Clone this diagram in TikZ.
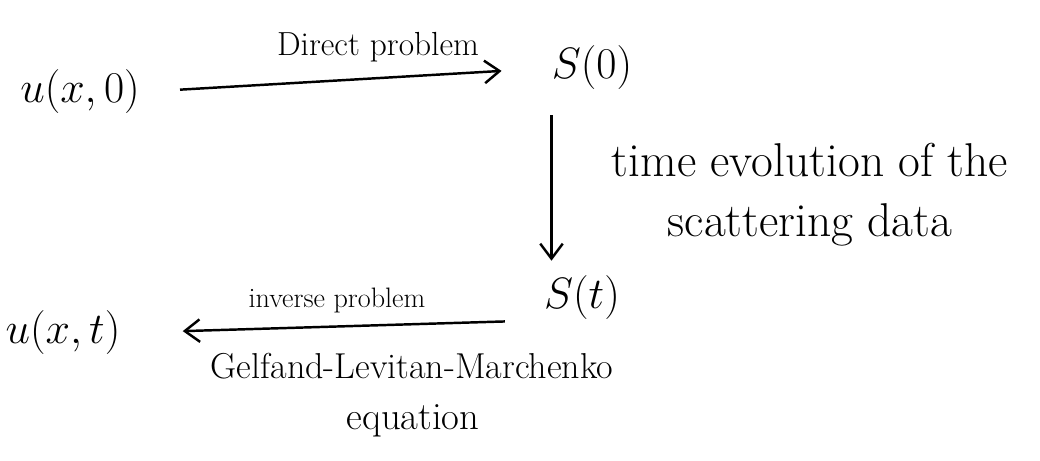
\RequirePackage{fix-cm}
\documentclass[tikz,border=0pt]{standalone}
\usepackage{amsmath}
\usetikzlibrary{arrows.meta}

\begin{document}
\begin{tikzpicture}[scale=0.2]
	    \tikzstyle{every node}+=[inner sep=0pt]
	    \tikzstyle{hand}=[line width=1.4pt, -{Straight Barb[length=3mm,width=4.5mm]}]
	    \tikzstyle{state}=[font=\fontsize{25}{28}\selectfont]
	    \tikzstyle{label}=[font=\fontsize{20.5}{24}\selectfont, align=center]
	    \useasboundingbox (0,0) rectangle (104,-46.1);
	    % states
	    \node [state] (u0) at (8,-9.2) {$u(x,0)$};
	    \node [state] (S0) at (59.2,-6.8) {$S(0)$};
	    \node [state] (St) at (58.2,-29.8) {$S(t)$};
	    \node [state] (ut) at (6.3,-33.3) {$u(x,t)$};
	    % labels
	    \node [label, font=\fontsize{19}{23}\selectfont] (direct) at (37.8,-4.7) {Direct problem};
	    \node [label, font=\fontsize{27}{34}\selectfont] (evol) at (81,-19.5) {time evolution of the\\scattering data};
	    \node [label, font=\fontsize{16}{20}\selectfont] (inverse) at (33.7,-30) {inverse problem};
	    \node [label] (glm) at (41.2,-36.6) {Gelfand-Levitan-Marchenko};
	    \node [label, font=\fontsize{22}{26}\selectfont] (eq) at (41.3,-42.1) {equation};
	    % arrows
	    \draw [black, hand, shorten <=0.8cm, shorten >=1cm] (u0.east) -- (S0.west);
	    \draw [black, hand, shorten <=0.5cm, shorten >=0.3cm] (S0.south west) -- (S0.south west |- St.north);
	    \draw [black, hand, shorten <=0.78cm, shorten >=1.24cm] (St.south west) -- (ut.east);
    \end{tikzpicture}
\end{document}
